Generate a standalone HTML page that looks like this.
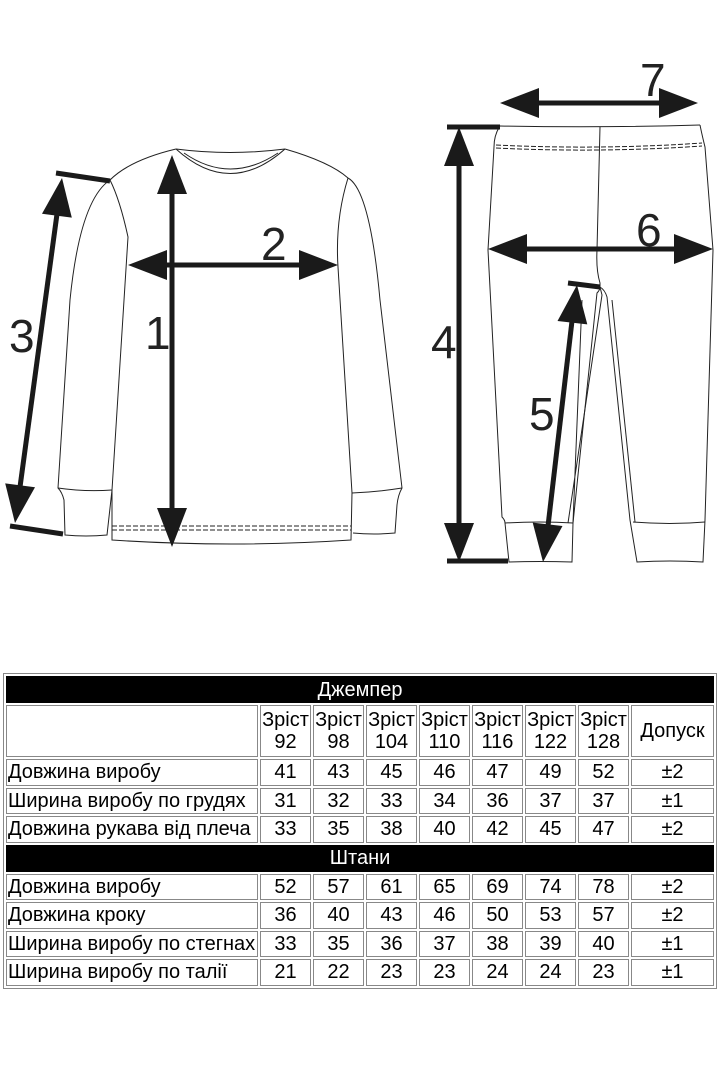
<!DOCTYPE html>
<html><head><meta charset="utf-8"><style>
body{margin:0;width:720px;height:1080px;background:#fff;position:relative;overflow:hidden;font-family:"Liberation Sans",Arial,sans-serif}
svg{position:absolute;left:0;top:0}
table{position:absolute;left:3px;top:673px;border:1px solid #888;border-spacing:2px;table-layout:fixed;width:714px;font-size:20px;color:#000}
td{border:1px solid #888;padding:0;height:24.5px;line-height:22px;text-align:center;overflow:hidden;white-space:nowrap}
td.l{text-align:left;padding-left:1px}
tr.h td{background:#000;color:#fff;height:25px;border-color:#000}
tr.s td{height:50px;line-height:22px}
</style></head><body>
<svg width="720" height="600" viewBox="0 0 720 600">
<g fill="none" stroke="#222" stroke-width="1">
<path d="M176,149 Q230,156 285,149"/>
<path d="M176,149 Q230,198 285,149"/>
<path d="M184,153 Q230,185 278,153"/>
<path d="M176,149 Q130,160 110,180"/>
<path d="M285,149 Q330,162 348,178"/>
<path d="M110,180 Q120,200 128,237 L112,490 L112,540 Q232,548 351,540 L352,493 L338,267 Q335,220 348,178"/>
<path d="M110,180 Q80,200 70,300 L58,488 Q62,492 64,500 L65,535 Q86,537 107,535 L112,490"/>
<path d="M58,488 Q85,492 112,490"/>
<path d="M348,178 Q370,190 380,300 L402,488 Q398,495 397,505 L395,533 Q374,535 353,533"/>
<path d="M352,493 Q377,492 402,488"/>
<path d="M112,526 L351,526 M112,530 L351,530" stroke-dasharray="5,2"/>
<path d="M500,126 Q600,128 700,125"/>
<path d="M500,126 Q494,135 494,147 L488,250 L502,517 Q505,520 505,523 L509,562 Q540,561 572,562 L573,523 L597,293 Q600,290 600,287 L600,283 Q596,270 597,250 L600,127"/>
<path d="M505,523 Q540,521 573,523"/>
<path d="M582,300 L573,523 M600,287 L602,295 L568,523"/>
<path d="M600,287 Q605,290 607,297 L630,520 L637,562 Q670,560 703,562 L705,520 L713,250 L705,147 Q702,135 700,125"/>
<path d="M612,300 L635,522"/>
<path d="M633,522 Q670,525 705,522"/>
<path d="M496,145 Q600,150 702,143 M496,148 Q600,153 702,146" stroke-dasharray="5,2"/>
</g>
<g stroke="#1a1a1a" stroke-width="5" fill="none">
<line x1="172" y1="190" x2="172" y2="512"/>
<line x1="164" y1="265" x2="302" y2="265"/>
<line x1="57" y1="214" x2="20" y2="487"/>
<line x1="56" y1="173" x2="110" y2="181"/>
<line x1="10" y1="526" x2="63" y2="534"/>
<line x1="459" y1="163" x2="459" y2="526"/>
<line x1="447" y1="127" x2="500" y2="127"/>
<line x1="447" y1="561" x2="508" y2="561"/>
<line x1="524" y1="249" x2="677" y2="249"/>
<line x1="536" y1="103" x2="662" y2="103"/>
<line x1="572" y1="321" x2="548" y2="526"/>
<line x1="568" y1="283" x2="600" y2="287"/>
</g>
<g fill="#1a1a1a">
<polygon points="172,155 157,194 187,194"/>
<polygon points="172,547 157,508 187,508"/>
<polygon points="128,265 167,250 167,280"/>
<polygon points="338,265 299,250 299,280"/>
<polygon points="62,178 71.8,217.6 42,213.8"/>
<polygon points="15,523 35,487.2 5.2,483.4"/>
<polygon points="459,127 444,166 474,166"/>
<polygon points="459,562 444,523 474,523"/>
<polygon points="488,249 527,234 527,264"/>
<polygon points="713,249 674,234 674,264"/>
<polygon points="500,103 539,88 539,118"/>
<polygon points="698,103 659,88 659,118"/>
<polygon points="577,285 587.3,324.4 557.5,321"/>
<polygon points="543,562 562.5,526 532.7,522.6"/>
</g>
<g font-family="Liberation Sans, Arial, sans-serif" font-size="46" fill="#222">
<text x="145" y="349">1</text>
<text x="261" y="260">2</text>
<text x="9" y="352">3</text>
<text x="431" y="358">4</text>
<text x="529" y="430">5</text>
<text x="636" y="246">6</text>
<text x="640" y="96">7</text>
</g>
</svg>
<table>
<colgroup><col style="width:252px"><col style="width:51px"><col style="width:51px"><col style="width:51px"><col style="width:51px"><col style="width:51px"><col style="width:51px"><col style="width:51px"><col></colgroup>
<tr class="h"><td colspan="9">Джемпер</td></tr>
<tr class="s"><td></td><td>Зріст<br>92</td><td>Зріст<br>98</td><td>Зріст<br>104</td><td>Зріст<br>110</td><td>Зріст<br>116</td><td>Зріст<br>122</td><td>Зріст<br>128</td><td>Допуск</td></tr>
<tr><td class="l">Довжина виробу</td><td>41</td><td>43</td><td>45</td><td>46</td><td>47</td><td>49</td><td>52</td><td>±2</td></tr>
<tr><td class="l">Ширина виробу по грудях</td><td>31</td><td>32</td><td>33</td><td>34</td><td>36</td><td>37</td><td>37</td><td>±1</td></tr>
<tr><td class="l">Довжина рукава від плеча</td><td>33</td><td>35</td><td>38</td><td>40</td><td>42</td><td>45</td><td>47</td><td>±2</td></tr>
<tr class="h"><td colspan="9">Штани</td></tr>
<tr><td class="l">Довжина виробу</td><td>52</td><td>57</td><td>61</td><td>65</td><td>69</td><td>74</td><td>78</td><td>±2</td></tr>
<tr><td class="l">Довжина кроку</td><td>36</td><td>40</td><td>43</td><td>46</td><td>50</td><td>53</td><td>57</td><td>±2</td></tr>
<tr><td class="l">Ширина виробу по стегнах</td><td>33</td><td>35</td><td>36</td><td>37</td><td>38</td><td>39</td><td>40</td><td>±1</td></tr>
<tr><td class="l">Ширина виробу по талії</td><td>21</td><td>22</td><td>23</td><td>23</td><td>24</td><td>24</td><td>23</td><td>±1</td></tr>
</table>
</body></html>
